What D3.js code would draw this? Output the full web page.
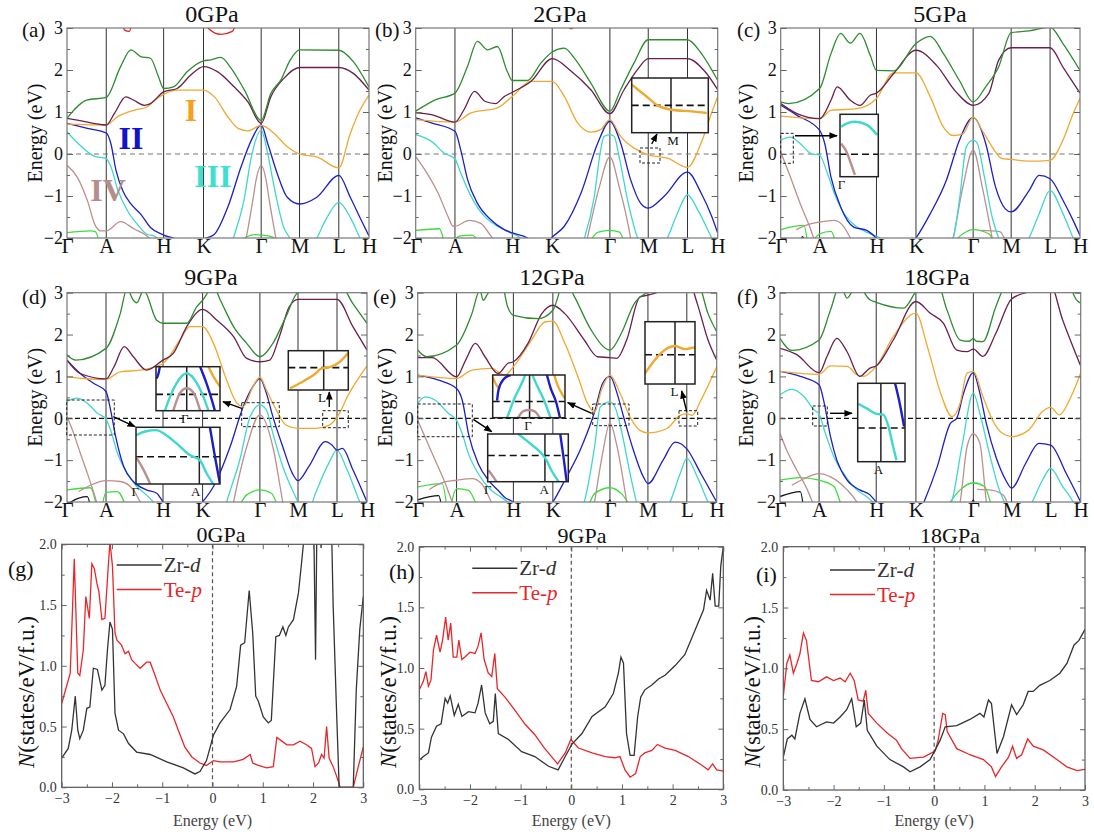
<!DOCTYPE html>
<html>
<head>
<meta charset="utf-8">
<script src="https://cdn.jsdelivr.net/npm/d3@7"></script>
<style>
  body { margin: 0; background: #fff; }
  svg { display: block; }
</style>
</head>
<body>
<svg id="fig" width="1094" height="832"></svg>
<script>
const FONT = '"Liberation Serif","Times New Roman",serif';

// k-path and relative segment lengths
const kPath = ['Γ', 'A', 'H', 'K', 'Γ', 'M', 'L', 'H'];
const kDist = [0, 0.13, 0.32, 0.452, 0.643, 0.77, 0.9, 1];
const pressures = ['0GPa', '2GPa', '5GPa', '9GPa', '12GPa', '18GPa'];
const dosPressures = ['0GPa', '9GPa', '18GPa'];

const bandKeys = ['lime', 'black', 'IV', 'III', 'II', 'I', 'c2', 'c3', 'red'];
const bandColor = d3.scaleOrdinal()
  .domain(bandKeys)
  .range(['#3ddc3d', '#111111', '#bc8f8f', '#40d8cc', '#1e1ec8', '#f0a830', '#6a1f4c', '#2e8b2e', '#e02020']);

// band energies (eV) along the path, x = index along kPath
const bands0 = {
  c3: [[[0,0.85],[0.5,1.28],[1,1.35],[1.25,2.08],[1.43,2.48],[1.6,2.32],[1.77,2.28],[1.91,1.84],[2,1.56],[2.25,1.6],[2.59,1.96],[3,2.22],[3.13,2.24],[3.3,2.3],[3.48,2.04],[3.71,1.52],[4,0.8],[4.25,1.44],[4.51,1.76],[4.76,2.24],[5,2.48],[6,2.47],[6.48,2.2],[7,1.59]]],
  c2: [[[0,0.85],[0.3,0.8],[1,0.69],[1.14,0.96],[1.34,1.36],[1.48,1.28],[1.66,1.16],[1.77,1.2],[2,1.48],[2.34,1.56],[2.68,1.88],[3,2.08],[3.24,1.96],[3.53,1.6],[3.77,1.24],[4,0.73],[4.25,1.36],[4.59,1.8],[5,2.06],[6,2.06],[6.48,1.92],[7,1.52]]],
  I: [[[0,0.71],[1,0.69],[1.2,0.89],[1.48,1.04],[1.71,1.12],[1.86,1.3],[2,1.42],[2.34,1.52],[3,1.52],[3.19,1.36],[3.42,0.89],[3.6,0.61],[3.77,0.55],[4,0.68],[4.34,0.49],[4.68,0.17],[5,0],[5.44,-0.07],[6,-0.33],[6.38,0.49],[6.7,1.04],[7,1.4]]],
  II: [[[0,0.73],[0.52,0.61],[1,0.5],[1.08,0.25],[1.17,-0.39],[1.29,-0.88],[1.43,-1.19],[1.6,-1.43],[1.77,-1.75],[2,-1.93],[2.34,-2.05],[2.6,-2.3],[3,-2.03],[3.19,-1.91],[3.42,-1.27],[3.65,-0.31],[3.83,0.33],[4,0.69],[4.17,0.25],[4.42,-0.47],[4.68,-1.03],[5,-1.19],[5.44,-1.03],[6,-0.51],[6.38,-1.03],[6.7,-1.51],[7,-1.95]]],
  III: [[[0,0.53],[0.34,0.2],[0.69,-0.05],[1,-0.11],[1.08,-0.3],[1.2,-0.85],[1.37,-1.35],[1.54,-1.67],[1.71,-1.91],[1.83,-1.95],[2.1,-2.3],[2.6,-3]],
        [[3.3,-3],[3.52,-2],[3.7,-1.11],[3.83,-0.07],[4,0.57],[4.17,0.01],[4.34,-0.79],[4.59,-1.75],[4.76,-2.03],[5,-2.6],[5.44,-2],[5.7,-1.51],[6,-1.15],[6.38,-1.51],[6.7,-2],[7,-2.4]]],
  IV: [[[0,-0.27],[0.26,-0.55],[0.52,-1.11],[0.72,-1.7],[0.85,-1.83],[1,-1.83],[1.25,-1.61],[1.48,-1.78],[1.71,-1.95],[1.9,-2.2]],
       [[3.55,-3],[3.74,-2],[3.855,-1.1],[3.91,-0.63],[4,-0.27],[4.13,-0.63],[4.21,-1.1],[4.38,-2],[4.55,-3]]],
  lime: [[[0,-1.87],[0.6,-1.83],[0.72,-1.85],[0.85,-2.2]], [[3.6,-2.2],[3.75,-1.97],[3.9,-1.92],[4,-1.93],[4.3,-1.98],[4.5,-2.2]]],
  red: [[[1.26,3.2],[1.32,2.95],[1.4,2.92],[1.46,3.2]], [[3,3.2],[3.1,2.97],[3.3,2.85],[3.5,2.92],[3.56,3.1]]]
};

const bands2 = {
  c3: [[[0,1.02],[0.5,1.29],[1,1.45],[1.22,2.09],[1.39,2.68],[1.57,2.48],[1.74,2.56],[1.91,1.97],[2,1.75],[2.38,1.75],[2.72,2.17],[3,2.43],[3.21,2.52],[3.38,2.29],[3.67,1.69],[4,1.02],[4.28,1.53],[4.63,2.17],[5,2.72],[6,2.72],[6.45,2.4],[7,1.75]]],
  c2: [[[0,0.98],[0.4,0.94],[1,0.76],[1.16,1.06],[1.34,1.49],[1.53,1.25],[1.71,1.2],[1.86,1.37],[2,1.47],[2.47,1.73],[3,2.27],[3.33,1.97],[3.67,1.53],[4,0.96],[4.37,1.53],[4.72,2.01],[5,2.27],[6,2.27],[6.57,1.97],[7,1.53]]],
  I: [[[0,0.82],[1,0.76],[1.28,0.98],[1.74,1.1],[2,1.37],[2.47,1.73],[3,1.73],[3.21,1.37],[3.44,0.74],[3.67,0.52],[3.84,0.58],[4,0.82],[4.28,0.42],[4.63,0.14],[5,-0.02],[5.49,-0.1],[6,-0.32],[6.45,0.26],[6.8,0.98],[7,1.37]]],
  II: [[[0,0.86],[0.4,0.74],[1,0.54],[1.1,0.1],[1.22,-0.61],[1.39,-1.17],[1.62,-1.56],[1.86,-1.8],[2,-1.88],[2.38,-2],[2.7,-2.3],[3,-1.98],[3.21,-1.72],[3.5,-0.93],[3.79,0.26],[4,0.78],[4.28,0.26],[4.54,-0.61],[4.8,-1.17],[5,-1.29],[5.4,-1.01],[6,-0.43],[6.45,-0.93],[6.8,-1.48],[7,-1.88]]],
  III: [[[0,0.46],[0.4,0.3],[0.73,0.02],[1,-0.12],[1.1,-0.45],[1.28,-1.01],[1.51,-1.48],[1.74,-1.72],[1.97,-1.88],[2.2,-2],[2.5,-2.5]],
        [[3.3,-2.6],[3.56,-2],[3.73,-1.01],[3.84,0.1],[3.9,0.42],[4,0.46],[4.11,0.42],[4.24,-0.06],[4.46,-1.09],[4.72,-2],[5.1,-2.6],[5.49,-2],[5.75,-1.4],[6,-0.97],[6.34,-1.33],[6.8,-2],[7,-2.3]]],
  IV: [[[0,-0.06],[0.23,-0.37],[0.57,-0.93],[0.82,-1.48],[0.95,-1.72],[1,-1.72],[1.25,-1.58],[1.45,-1.65],[1.6,-1.9],[1.75,-2.2]],
       [[3.45,-3],[3.61,-2],[3.82,-0.77],[4,-0.07],[4.24,-0.77],[4.54,-2],[4.7,-3]]],
  lime: [[[0,-1.82],[0.6,-1.78],[0.75,-2.2]], [[0.9,-2.1],[1.1,-1.95],[1.3,-1.93],[1.45,-2.2]], [[3.6,-2.2],[3.8,-1.86],[4,-1.82],[4.25,-1.86],[4.4,-2.2]]],
  red: [[[3.22,3.15],[3.33,2.98],[3.44,3.15]]]
};

const bands5 = {
  c3: [[[0,1.24],[0.2,1.2],[1,1.56],[1.2,2.39],[1.37,2.87],[1.54,2.64],[1.71,2.87],[1.89,2.35],[2,1.99],[2.43,1.98],[3,2.63],[3.25,2.8],[3.48,2.39],[3.76,1.75],[4,1.24],[4.33,1.6],[4.67,2.07],[5,2.89],[5.46,2.93],[6,3.02],[6.43,2.63],[7,1.99]]],
  c2: [[[0,1.2],[0.42,0.96],[1,0.84],[1.2,1.28],[1.31,1.6],[1.54,1.28],[1.71,1.16],[1.89,1.4],[2,1.45],[2.43,1.91],[3,2.47],[3.36,2.11],[3.7,1.48],[4,1.16],[4.41,1.44],[4.67,2.23],[5,2.53],[6,2.53],[6.43,2.07],[7,1.45]]],
  I: [[[0,0.9],[1,0.84],[1.2,1.04],[1.66,1.08],[2,1.32],[2.43,1.93],[3,1.93],[3.25,1.36],[3.48,0.64],[3.65,0.44],[3.82,0.48],[4,0.88],[4.24,0.56],[4.5,0.17],[4.76,-0.11],[5,-0.13],[5.46,-0.17],[6,-0.15],[6.43,0.33],[6.77,0.96],[7,1.32]]],
  II: [[[0,1.16],[0.42,0.92],[1,0.56],[1.09,0.25],[1.2,-0.55],[1.37,-1.26],[1.6,-1.74],[1.83,-1.82],[2,-2],[2.5,-2.5],[3,-2],[3.25,-1.42],[3.53,-0.63],[3.76,0.33],[4,0.87],[4.33,0.25],[4.59,-0.79],[4.84,-1.3],[5,-1.38],[5.46,-0.87],[5.72,-0.51],[6,-0.59],[6.43,-1.1],[6.77,-1.58],[7,-1.94]]],
  III: [[[0,0.33],[0.25,0.4],[0.5,0.25],[0.78,0.01],[1,-0.03],[1.14,-0.47],[1.26,-0.94],[1.43,-1.42],[1.66,-1.74],[1.89,-1.9],[2.09,-2],[2.5,-2.6]],
        [[3.3,-2.6],[3.65,-2],[3.76,-1.1],[3.88,0.17],[4,0.33],[4.11,0.25],[4.28,-0.47],[4.5,-1.5],[4.67,-2],[5,-2.6],[5.46,-2],[5.72,-1.42],[6,-0.87],[6.43,-1.42],[6.77,-2],[7,-2.4]]],
  IV: [[[0,0.05],[0.25,-0.55],[0.5,-1.18],[0.78,-1.82],[0.95,-2.3]],
       [[0.4,-1.8],[0.7,-1.68],[1,-1.62],[1.26,-1.58],[1.43,-1.74],[1.54,-2],[1.7,-2.4]],
       [[3.4,-3],[3.65,-2],[3.82,-0.79],[4,0.1],[4.24,-0.79],[4.5,-2],[4.7,-3]],
       [[4.2,-1.82],[4.7,-1.85],[4.9,-2.2]]],
  lime: [[[0,-1.8],[0.6,-1.7],[0.7,-2.2]], [[0.8,-2.1],[1,-1.9],[1.2,-1.84],[1.3,-2.2]], [[3.6,-2.2],[3.82,-1.9],[4,-1.8],[4.41,-1.9],[4.6,-2.2]]],
  black: [[[0.5,-2.1],[0.56,-1.97],[0.62,-2.1]]]
};

const bands9 = {
  c3: [[[0,1.51],[0.22,1.39],[1,1.67],[1.25,2.5],[1.37,3.1],[1.48,2.82],[1.54,2.76],[1.66,3.06],[1.89,2.34],[2,2.27],[2.6,2.27],[2.85,2.66],[3,2.82],[3.19,3.14],[3.31,2.82],[3.54,2.19],[3.77,1.79],[4,1.47],[4.34,1.79],[4.68,2.42],[5,3],[5.45,3.06],[6,3.3],[6.53,2.74],[7,2.27]]],
  c2: [[[0,1.39],[0.34,1.07],[1,0.94],[1.14,1.23],[1.32,1.71],[1.48,1.47],[1.71,1.15],[2,1.39],[2.26,1.55],[2.6,2.19],[3,2.6],[3.25,2.34],[3.54,1.95],[3.77,1.43],[4,1.35],[4.26,1.39],[4.51,1.95],[4.77,2.66],[5,2.84],[6,2.84],[6.53,2.19],[7,1.63]]],
  I: [[[0,0.99],[0.43,0.95],[1,0.93],[1.25,1.11],[1.6,1.15],[2,1.31],[2.43,1.87],[2.68,2.19],[3,2.19],[3.19,1.79],[3.42,0.91],[3.6,0.36],[3.71,0.28],[3.88,0.76],[4,0.98],[4.17,0.68],[4.43,0.2],[4.68,-0.16],[5,-0.24],[5.45,-0.24],[5.79,-0.17],[6,0.02],[6.41,0.6],[7,1.25]]],
  II: [[[0,1.39],[0.34,1.07],[0.69,0.83],[1,0.64],[1.08,0.2],[1.17,-0.44],[1.31,-1.15],[1.48,-1.51],[1.71,-1.71],[1.89,-1.79],[2,-2],[2.5,-2.5],[3,-2],[3.19,-1.63],[3.48,-0.68],[3.71,0.28],[3.88,0.76],[4,0.95],[4.17,0.6],[4.34,0.04],[4.6,-0.68],[4.85,-1.31],[5,-1.49],[5.28,-1.15],[5.7,-0.56],[5.87,-0.64],[6,-0.76],[6.18,-0.72],[6.53,-1.23],[7,-2]]],
  III: [[[0,0.4],[0.26,0.48],[0.52,0.36],[0.78,0.12],[1,-0.02],[1.08,-0.28],[1.2,-0.83],[1.37,-1.31],[1.54,-1.63],[1.71,-1.83],[1.83,-2],[2.3,-2.6]],
        [[3.3,-2.6],[3.42,-2],[3.65,-0.99],[3.83,0.04],[4,0.32],[4.17,0.2],[4.34,-0.36],[4.6,-1.15],[4.85,-1.71],[5,-2],[5.2,-2.4],[5.45,-1.79],[5.79,-1.07],[6,-0.76],[6.29,-1.15],[6.76,-2],[7,-2.4]]],
  IV: [[[0,0.04],[0.17,-0.36],[0.34,-0.83],[0.52,-1.31],[0.69,-1.79],[0.85,-2.3]],
       [[0.3,-1.75],[0.6,-1.6],[1,-1.49],[1.25,-1.51],[1.48,-1.71],[1.6,-2],[1.75,-2.4]],
       [[3.4,-3],[3.54,-2],[3.77,-0.68],[4,0.08],[4.34,-0.68],[4.6,-2],[4.8,-3]]],
  lime: [[[0,-1.71],[0.6,-1.66],[0.78,-2.2]], [[0.9,-2.1],[1,-1.77],[1.2,-1.75],[1.37,-2.2]], [[3.6,-2.2],[3.77,-1.83],[4,-1.71],[4.3,-1.79],[4.5,-2.2]]],
  black: [[[0,-2.2],[0.1,-2],[0.52,-1.87],[0.62,-2.2]]]
};

const bands12 = {
  c3: [[[0,1.63],[0.23,1.47],[1,1.75],[1.27,2.5],[1.41,3.06],[1.47,2.82],[1.55,2.98],[1.78,3.3],[1.9,2.66],[2,2.46],[2.63,2.38],[3,2.58],[3.21,3.3],[3.38,2.9],[3.67,2.11],[4,1.63],[4.3,2.03],[4.64,2.74],[5,3.02],[6,3.4],[6.35,3.3],[6.71,2.5],[7,2.07]]],
  c2: [[[0,1.45],[0.37,1.45],[1,0.99],[1.16,1.39],[1.33,1.79],[1.5,1.47],[1.73,1.07],[1.9,1.31],[2,1.35],[2.37,1.79],[2.72,2.5],[3,2.7],[3.21,2.5],[3.55,1.87],[3.78,1.47],[4,1.45],[4.18,1.43],[4.44,1.87],[4.79,2.9],[5,2.94],[5.39,3.06],[6,3.4],[6.35,2.74],[6.71,1.87],[7,1.39]]],
  I: [[[0,1.03],[1,0.95],[1.27,1.15],[1.61,1.19],[1.85,1.03],[2,1.23],[2.46,1.87],[2.8,2.3],[3,2.32],[3.21,1.79],[3.44,0.99],[3.61,0.35],[3.73,0.15],[3.85,0.67],[4,1.03],[4.27,0.59],[4.53,0.03],[4.79,-0.29],[5,-0.35],[5.48,-0.25],[5.83,0.07],[6,0.11],[6.18,0.07],[6.47,0.43],[7,1.23]]],
  II: [[[0,1.03],[0.54,0.91],[1,0.71],[1.1,0.43],[1.21,-0.37],[1.38,-1.08],[1.56,-1.48],[1.73,-1.72],[1.84,-1.88],[2,-2],[2.5,-2.5],[3,-2],[3.21,-1.48],[3.5,-0.69],[3.73,0.15],[3.87,0.83],[4,1],[4.19,0.59],[4.36,0.03],[4.62,-0.77],[4.88,-1.4],[5,-1.56],[5.39,-1],[5.7,-0.57],[6,-0.73],[6.47,-1.32],[7,-2]]],
  III: [[[0,0.35],[0.19,0.51],[0.45,0.43],[0.8,0.11],[1,-0.05],[1.1,-0.37],[1.21,-0.85],[1.38,-1.32],[1.61,-1.72],[1.78,-1.88],[1.9,-2],[2.3,-2.6]],
        [[3.3,-2.6],[3.55,-2],[3.73,-0.69],[3.83,0.27],[4,0.39],[4.15,0.23],[4.32,-0.37],[4.53,-1.32],[4.7,-2],[5,-2.6],[5.57,-2],[5.83,-1.32],[6,-0.96],[6.35,-1.4],[6.71,-2],[7,-2.4]]],
  IV: [[[0,-0.05],[0.19,-0.45],[0.45,-1],[0.71,-1.56],[0.89,-2],[1.1,-2.5]],
       [[0.3,-1.7],[0.6,-1.55],[1,-1.48],[1.27,-1.44],[1.44,-1.56],[1.61,-2],[1.75,-2.4]],
       [[3.6,-3],[3.73,-2],[3.87,-0.85],[4,-0.11],[4.19,-0.69],[4.44,-2],[4.6,-3]]],
  lime: [[[0,-1.64],[0.63,-1.56],[0.76,-2.2]], [[0.85,-2.1],[1,-1.68],[1.21,-1.72],[1.38,-2.2]], [[3.6,-2.2],[3.73,-1.8],[4,-1.66],[4.3,-1.8],[4.6,-2.2]]],
  black: [[[0,-1.95],[0.54,-1.85],[0.63,-2.2]], [[3.93,-2.2],[4,-1.95],[4.07,-2.2]]]
};

const bands18 = {
  c3: [[[0,1.91],[0.3,1.62],[1,1.87],[1.2,2.59],[1.37,3.2],[1.49,2.87],[1.66,3.2],[1.89,2.83],[2,2.77],[2.69,2.63],[3,3.03],[3.31,3.5],[3.54,2.59],[3.77,1.87],[3.93,1.84],[4,1.91],[4.08,1.84],[4.25,1.83],[4.59,2.67],[4.85,3.23],[5,3.4],[6,3.5],[6.4,3.5],[6.86,2.83],[7,2.75]]],
  c2: [[[0,1.67],[0.43,1.52],[1,1.09],[1.14,1.48],[1.31,1.91],[1.49,1.59],[1.71,1],[1.89,1.2],[2,1.25],[2.43,1.87],[3,2.79],[3.25,2.51],[3.48,2.27],[3.71,1.63],[3.89,1.59],[4,1.65],[4.25,1.48],[4.59,2.03],[5,2.85],[5.44,3.03],[5.95,3.3],[6.4,2.35],[7,1.25]]],
  I: [[[0,1.12],[1,1.05],[1.2,1.25],[1.49,1.24],[1.66,1.04],[1.77,1],[2,1.24],[2.43,1.95],[3,2.51],[3.2,1.71],[3.43,0.6],[3.63,0.04],[3.77,0.36],[3.89,1.08],[4,1.12],[4.25,0.52],[4.5,-0.04],[4.76,-0.36],[5,-0.44],[5.44,-0.28],[5.79,0.16],[6,0.26],[6.29,0.08],[6.63,0.44],[7,1.08]]],
  II: [[[0,1.12],[0.52,1],[1,0.8],[1.09,0.36],[1.2,-0.44],[1.31,-1],[1.49,-1.48],[1.71,-1.71],[1.89,-1.83],[2,-2],[2.5,-2.6],[2.9,-2.6],[3.14,-2],[3.37,-1.16],[3.6,-0.12],[3.71,0],[3.83,0.6],[4,1.09],[4.17,0.6],[4.34,-0.12],[4.59,-0.92],[4.85,-1.48],[5,-1.67],[5.36,-1.08],[5.7,-0.6],[6,-0.64],[6.52,-1.32],[7,-2]]],
  III: [[[0,0.56],[0.3,0.69],[0.61,0.52],[0.87,0.2],[1,0.1],[1.11,-0.36],[1.26,-0.92],[1.43,-1.32],[1.66,-1.71],[1.83,-1.87],[1.94,-2],[2.3,-2.6]],
        [[3.3,-2.6],[3.62,-2],[3.8,-0.68],[4,0.6],[4.17,0.12],[4.42,-0.84],[4.68,-1.71],[4.81,-2],[5.1,-2.6],[5.53,-2],[5.79,-1.48],[6,-1.2],[6.4,-1.63],[6.75,-2],[7,-2.4]]],
  IV: [[[0,-0.36],[0.17,-0.76],[0.43,-1.24],[0.7,-1.71],[0.83,-2],[1,-2.4]],
       [[0.3,-1.6],[0.6,-1.45],[1,-1.32],[1.2,-1.4],[1.49,-1.71],[1.66,-2],[1.8,-2.4]],
       [[3.5,-3],[3.77,-2],[3.89,-0.68],[4,-0.37],[4.17,-0.6],[4.34,-2],[4.5,-3]],
       [[4.1,-1.7],[4.5,-1.72],[4.8,-1.85],[4.95,-2.2]]],
  lime: [[[0,-1.48],[0.5,-1.42],[1,-1.48],[1.26,-1.63],[1.37,-2],[1.5,-2.4]], [[3.5,-2.2],[3.77,-1.71],[4,-1.54],[4.29,-1.63],[4.5,-2.2]]],
  black: [[[0,-1.87],[0.52,-1.75],[0.61,-2.2]], [[3.93,-2.2],[4,-1.95],[4.07,-2.2]]]
};

// projected DOS, [energy eV, states/eV/f.u.]
const dosZr0 = [[-3,0.24],[-2.87,0.32],[-2.8,0.47],[-2.73,0.75],[-2.68,0.47],[-2.64,0.4],[-2.57,0.47],[-2.5,0.65],[-2.44,0.66],[-2.37,0.98],[-2.29,0.97],[-2.2,0.8],[-2.14,0.84],[-2.09,1.13],[-2.04,1.36],[-1.99,1.3],[-1.94,0.61],[-1.87,0.47],[-1.77,0.44],[-1.67,0.36],[-1.51,0.29],[-1.24,0.27],[-0.91,0.21],[-0.58,0.16],[-0.35,0.11],[-0.25,0.13],[-0.12,0.22],[0.02,0.43],[0.15,0.53],[0.35,0.64],[0.48,0.83],[0.56,1.17],[0.64,1.19],[0.73,1.62],[0.8,1.27],[0.86,0.75],[0.91,0.71],[1.01,0.58],[1.11,0.53],[1.17,0.55],[1.26,1.24],[1.33,1.25],[1.4,1.32],[1.46,1.25],[1.51,1.32],[1.61,1.38],[1.71,1.6],[1.77,1.84],[1.82,2.05],[1.94,2.3],[1.99,2.05],[2.01,2.3],[2.05,1.05],[2.08,2.3],[2.13,2.3],[2.16,1.97],[2.19,2.3],[2.36,2.3],[2.4,1.5],[2.47,0.6],[2.52,0],[2.8,0],[2.86,0.8],[2.93,1.3],[3,1.57]];
const dosTe0 = [[-3,0.69],[-2.83,0.94],[-2.75,1.88],[-2.68,0.94],[-2.64,0.92],[-2.57,1.13],[-2.52,1.57],[-2.45,1.39],[-2.4,1.84],[-2.35,1.8],[-2.3,1.68],[-2.26,1.61],[-2.2,1.38],[-2.14,1.39],[-2.07,1.84],[-2.04,2.02],[-1.99,1.82],[-1.94,1.27],[-1.9,1.21],[-1.81,1.17],[-1.74,1.1],[-1.67,1.12],[-1.61,1.05],[-1.54,1.02],[-1.44,0.98],[-1.31,1.03],[-1.24,1.03],[-1.16,0.94],[-1.04,0.8],[-0.91,0.69],[-0.78,0.58],[-0.68,0.47],[-0.55,0.33],[-0.41,0.25],[-0.25,0.2],[-0.12,0.18],[0.02,0.22],[0.15,0.21],[0.42,0.21],[0.61,0.23],[0.75,0.27],[0.8,0.2],[0.91,0.18],[1.08,0.16],[1.21,0.17],[1.28,0.41],[1.38,0.38],[1.48,0.35],[1.61,0.35],[1.74,0.38],[1.87,0.35],[1.97,0.32],[2.04,0.17],[2.11,0.2],[2.17,0.27],[2.22,0.24],[2.27,0.5],[2.32,0.24],[2.4,0.17],[2.47,0.09],[2.54,0],[2.8,0],[2.9,0.17],[3,0.33]];
const dosZr9 = [[-3,0.24],[-2.92,0.27],[-2.82,0.3],[-2.76,0.43],[-2.66,0.52],[-2.57,0.54],[-2.49,0.75],[-2.44,0.71],[-2.39,0.77],[-2.31,0.61],[-2.23,0.7],[-2.16,0.6],[-2.03,0.64],[-1.9,0.63],[-1.84,0.71],[-1.77,0.86],[-1.7,0.63],[-1.61,0.54],[-1.54,0.56],[-1.5,0.79],[-1.44,0.46],[-1.24,0.41],[-0.98,0.31],[-0.72,0.27],[-0.45,0.19],[-0.26,0.16],[-0.12,0.27],[0.01,0.37],[0.21,0.46],[0.41,0.6],[0.67,0.68],[0.83,0.79],[0.93,0.96],[0.98,1.09],[1.03,1.04],[1.09,0.46],[1.16,0.28],[1.24,0.28],[1.31,0.6],[1.37,0.76],[1.45,0.82],[1.59,0.86],[1.72,0.91],[1.85,0.94],[2.05,1.02],[2.24,1.11],[2.44,1.31],[2.61,1.48],[2.67,1.64],[2.74,1.56],[2.79,1.78],[2.84,1.51],[2.91,1.51],[2.95,1.84],[3,2]];
const dosTe9 = [[-3,0.82],[-2.92,0.89],[-2.87,0.97],[-2.82,0.85],[-2.77,0.9],[-2.72,1.15],[-2.66,1.27],[-2.59,1.13],[-2.54,1.23],[-2.48,1.42],[-2.43,1.23],[-2.38,1.37],[-2.33,1.09],[-2.26,1.09],[-2.22,1.23],[-2.16,1.07],[-2.1,1.09],[-2,1.13],[-1.9,1.12],[-1.84,1.18],[-1.78,1.29],[-1.72,1.07],[-1.64,0.96],[-1.57,0.93],[-1.51,1.12],[-1.46,0.83],[-1.31,0.76],[-1.11,0.65],[-0.92,0.54],[-0.72,0.45],[-0.53,0.34],[-0.39,0.27],[-0.27,0.21],[-0.12,0.3],[-0.01,0.41],[0.14,0.34],[0.41,0.3],[0.67,0.27],[0.86,0.26],[0.96,0.27],[1.06,0.16],[1.16,0.1],[1.27,0.13],[1.36,0.27],[1.45,0.3],[1.59,0.32],[1.7,0.37],[1.85,0.34],[2.05,0.32],[2.31,0.27],[2.57,0.2],[2.7,0.16],[2.79,0.21],[2.87,0.16],[3,0.15]];
const dosZr18 = [[-3,0.27],[-2.92,0.42],[-2.83,0.45],[-2.77,0.42],[-2.67,0.63],[-2.57,0.75],[-2.47,0.58],[-2.34,0.52],[-2.14,0.56],[-2,0.55],[-1.87,0.6],[-1.74,0.66],[-1.64,0.75],[-1.55,0.52],[-1.46,0.55],[-1.39,0.74],[-1.33,0.49],[-1.14,0.36],[-0.88,0.25],[-0.61,0.19],[-0.48,0.15],[-0.28,0.19],[-0.08,0.25],[0.02,0.33],[0.12,0.41],[0.22,0.52],[0.45,0.53],[0.71,0.58],[0.91,0.63],[0.99,0.6],[1.08,0.74],[1.14,0.71],[1.25,0.3],[1.38,0.44],[1.54,0.7],[1.64,0.62],[1.77,0.7],[1.87,0.81],[1.97,0.81],[2.1,0.86],[2.3,0.9],[2.5,0.96],[2.64,1.04],[2.78,1.19],[2.88,1.23],[3,1.32]];
const dosTe18 = [[-3,0.77],[-2.93,1.04],[-2.87,1.11],[-2.8,0.96],[-2.73,1.04],[-2.67,1.12],[-2.6,1.29],[-2.54,1.23],[-2.44,0.9],[-2.3,0.89],[-2.14,0.93],[-2,0.9],[-1.87,0.92],[-1.77,0.89],[-1.67,0.96],[-1.59,0.9],[-1.51,0.74],[-1.41,0.73],[-1.36,0.82],[-1.31,0.63],[-1.14,0.55],[-0.94,0.47],[-0.75,0.41],[-0.65,0.34],[-0.48,0.26],[-0.21,0.27],[0.02,0.32],[0.08,0.41],[0.17,0.63],[0.22,0.62],[0.26,0.48],[0.45,0.34],[0.71,0.29],[0.98,0.25],[1.14,0.19],[1.22,0.11],[1.34,0.19],[1.48,0.27],[1.56,0.36],[1.64,0.26],[1.74,0.29],[1.86,0.42],[1.97,0.36],[2.17,0.33],[2.44,0.25],[2.64,0.19],[2.84,0.16],[3,0.17]];

// zoomed inset curves, in fractions of the inset box (u right, v down)
const insetCurvesB = [['I', [[0,0.12],[0.17,0.31],[0.35,0.51],[0.52,0.58],[0.78,0.61],[0.98,0.64]]]];
const insetCurvesC = [['III', [[0.03,0.2],[0.2,0.14],[0.39,0.12],[0.7,0.17],[0.97,0.33]]], ['IV', [[0.03,0.47],[0.17,0.6],[0.28,0.78],[0.39,0.97]]]];
const insetCurvesD1 = [['II', [[0.01,0.27],[0.04,0.15],[0.06,0]]], ['III', [[0.14,1],[0.22,0.68],[0.32,0.38],[0.48,0.15],[0.64,0.38],[0.74,0.68],[0.82,1]]], ['IV', [[0.27,1],[0.375,0.6],[0.48,0.49],[0.59,0.6],[0.69,1]]], ['II', [[0.69,0],[0.77,0.3],[0.84,0.6],[0.92,1]]], ['I', [[0.82,0],[0.9,0.23],[1,0.45]]]];
const insetCurvesD2 = [['III', [[0,0.14],[0.12,0.07],[0.24,0.05],[0.36,0.14],[0.48,0.28],[0.64,0.49],[0.76,0.58],[0.84,0.81],[0.92,1]]], ['IV', [[0,0.52],[0.09,0.75],[0.17,1]]], ['II', [[0.88,0],[0.94,0.52],[1,1]]]];
const insetCurvesD3 = [['I', [[0.03,0.96],[0.19,0.83],[0.42,0.62],[0.56,0.45],[0.69,0.42],[0.86,0.28],[1,0.05]]]];
const insetCurvesE1 = [['I', [[0,0.05],[0.04,0.2],[0.08,0.3]]], ['II', [[0.06,0.6],[0.08,0.35],[0.15,0.1],[0.25,0]]], ['III', [[0.2,1],[0.3,0.55],[0.4,0.2],[0.45,0]]], ['III', [[0.55,0],[0.6,0.2],[0.7,0.55],[0.8,1]]], ['IV', [[0.35,1],[0.42,0.85],[0.5,0.82],[0.58,0.85],[0.65,1]]], ['II', [[0.75,0],[0.8,0.3],[0.88,0.65],[0.93,1]]], ['I', [[0.85,0],[0.9,0.25],[0.96,0.45],[1,0.55]]]];
const insetCurvesE2 = [['III', [[0.38,0],[0.55,0.23],[0.67,0.41],[0.73,0.55],[0.79,0.76],[0.88,1]]], ['II', [[0.9,0],[0.94,0.48],[0.98,1]]], ['IV', [[0.01,0.76],[0.07,0.9],[0.11,1]]]];
const insetCurvesE3 = [['I', [[0,0.83],[0.2,0.61],[0.4,0.45],[0.6,0.39],[0.8,0.44],[1,0.41]]]];
const insetCurvesF = [['III', [[0.01,0.26],[0.19,0.32],[0.4,0.39],[0.54,0.4],[0.65,0.55],[0.75,0.81],[0.82,0.98]]], ['II', [[0.79,0],[0.89,0.26],[0.98,0.55]]]];

const svg = d3.select('#fig');
const defs = svg.append('defs');
defs.append('marker')
  .attr('id', 'arr')
  .attr('viewBox', '0 0 10 10')
  .attr('refX', 9).attr('refY', 5)
  .attr('markerWidth', 6).attr('markerHeight', 6)
  .attr('orient', 'auto')
  .append('path').attr('d', 'M0,1 L10,5 L0,9 z').attr('fill', '#000');

const bandLayout = [
  { tag: 'a', x0: 67, x1: 369, y0: 28, y1: 238, tx: 212, ty: 22, lx: 22, ly: 37, yl: 35, zc: '#777', zd: '5,4' },
  { tag: 'b', x0: 415.7, x1: 717.7, y0: 28, y1: 238, tx: 560, ty: 22, lx: 375, ly: 37, yl: 385, zc: '#777', zd: '5,4' },
  { tag: 'c', x0: 780.7, x1: 1080, y0: 28, y1: 238, tx: 940, ty: 22, lx: 737, ly: 37, yl: 746, zc: '#777', zd: '5,4' },
  { tag: 'd', x0: 67, x1: 367, y0: 292.7, y1: 502, tx: 211, ty: 285, lx: 22, ly: 304, yl: 35, zc: '#111', zd: '5,3' },
  { tag: 'e', x0: 417.7, x1: 716.7, y0: 292.7, y1: 502, tx: 552, ty: 285, lx: 373, ly: 304, yl: 385, zc: '#111', zd: '5,3' },
  { tag: 'f', x0: 780, x1: 1080.7, y0: 292.7, y1: 502, tx: 937, ty: 285, lx: 737, ly: 304, yl: 746, zc: '#111', zd: '5,3' }
];

const dosLayout = [
  { tag: 'g', x0: 61.7, x1: 363.3, y0: 544.3, y1: 787.3, tx: 221, ty: 542, lx: 8, ly: 576, nl: 26, legX: 116.7, legY: 565 },
  { tag: 'h', x0: 419.3, x1: 723.3, y0: 546.7, y1: 789.3, tx: 582, ty: 543, lx: 389, ly: 579, nl: 388, legX: 472.3, legY: 568.3 },
  { tag: 'i', x0: 783.3, x1: 1085, y0: 546.7, y1: 790, tx: 950, ty: 543, lx: 756, ly: 582, nl: 752, legX: 830, legY: 570 }
];

const insetLayout = [
  { curves: insetCurvesB, box: [631.7, 78, 708.3, 132.7], src: [640, 148, 660, 163], arrow: [[651.7, 144], [657, 134]], vl: [0.513], dv: 0.5, labels: [['M', 0.54]] },
  { curves: insetCurvesC, box: [840, 114.3, 878.3, 176.7], src: [780.7, 133.3, 793.3, 163.3], arrow: [[795, 135.7], [837, 135.7]], vl: [], dv: 0.64, labels: [['Γ', 0.04]] },
  { curves: insetCurvesD1, box: [156, 366.7, 220, 410.7], src: [241.7, 402.7, 279.3, 426.7], arrow: [[241.7, 408.3], [223, 401.7]], vl: [0.48], dv: 0.63, labels: [['Γ', 0.45]] },
  { curves: insetCurvesD2, box: [136, 427.3, 220, 484], src: [66.7, 400, 114.3, 435], arrow: [[113.3, 416.7], [135, 426.7]], vl: [0.754], dv: 0.52, labels: [['Γ', -0.01], ['A', 0.71]] },
  { curves: insetCurvesD3, box: [288.3, 350.7, 348.3, 390], src: [322.7, 410.7, 348.3, 427.7], arrow: [[329.3, 407], [329.3, 392]], vl: [0.59], dv: 0.43, labels: [['L', 0.56]] },
  { curves: insetCurvesE1, box: [492.7, 375, 565, 417.7], src: [592.7, 404, 629, 425.7], arrow: [[591.7, 413.3], [567.7, 402.7]], vl: [0.51], dv: 0.62, labels: [['Γ', 0.49]] },
  { curves: insetCurvesE2, box: [487.7, 434, 568.3, 481.7], src: [417.7, 404, 472.3, 436.7], arrow: [[473.3, 419.3], [491.7, 431.7]], vl: [0.71], dv: 0.45, labels: [['Γ', 0], ['A', 0.7]] },
  { curves: insetCurvesE3, box: [645, 321.7, 695, 384], src: [679, 410.7, 697.7, 426], arrow: [[686.7, 411.7], [681.7, 391]], vl: [0.6], dv: 0.53, labels: [['L', 0.59]] },
  { curves: insetCurvesF, box: [857.7, 383.3, 905, 461.7], src: [812.7, 406, 827.3, 426], arrow: [[830, 413.3], [852, 413.3]], vl: [0.49], dv: 0.57, labels: [['A', 0.44]] }
];

function styleAxis(sel, size, fill) {
  sel.select('.domain').remove();
  sel.selectAll('line').attr('stroke', '#666');
  sel.selectAll('text').attr('font-size', size).attr('font-family', FONT).attr('fill', fill);
}

function bandPanel(L, bands, title) {
  const x = d3.scaleLinear().domain(d3.range(kPath.length))
    .range(kDist.map(f => L.x0 + f * (L.x1 - L.x0)));
  const y = d3.scaleLinear().domain([-2, 3]).range([L.y1, L.y0]);
  const g = svg.append('g');
  const clip = 'clip-' + L.tag;
  defs.append('clipPath').attr('id', clip).append('rect')
    .attr('x', L.x0).attr('y', L.y0).attr('width', L.x1 - L.x0).attr('height', L.y1 - L.y0);

  g.selectAll('.kline').data(d3.range(1, kPath.length - 1)).join('line')
    .attr('x1', d => x(d)).attr('x2', d => x(d))
    .attr('y1', L.y0).attr('y2', L.y1)
    .attr('stroke', '#333').attr('stroke-width', 1);
  g.append('line')
    .attr('x1', L.x0).attr('x2', L.x1).attr('y1', y(0)).attr('y2', y(0))
    .attr('stroke', L.zc).attr('stroke-width', 1.2).attr('stroke-dasharray', L.zd);

  const line = d3.line().x(d => x(d[0])).y(d => y(d[1])).curve(d3.curveMonotoneX);
  const bg = g.append('g').attr('clip-path', `url(#${clip})`);
  bandKeys.forEach(key => {
    (bands[key] || []).forEach(seg => {
      bg.append('path').attr('d', line(seg))
        .attr('fill', 'none').attr('stroke', bandColor(key)).attr('stroke-width', 1.3);
    });
  });

  g.append('rect')
    .attr('x', L.x0).attr('y', L.y0).attr('width', L.x1 - L.x0).attr('height', L.y1 - L.y0)
    .attr('fill', 'none').attr('stroke', '#777').attr('stroke-width', 1.2);

  const yMajor = [-2, -1, 0, 1, 2, 3];
  const yMinor = [-1.5, -0.5, 0.5, 1.5, 2.5];
  g.append('g').attr('transform', `translate(${L.x0},0)`)
    .call(d3.axisLeft(y).tickValues(yMajor).tickSizeInner(-6).tickSizeOuter(0).tickPadding(4).tickFormat(d3.format('d')))
    .call(a => styleAxis(a, 18, '#111'));
  g.append('g').attr('transform', `translate(${L.x0},0)`)
    .call(d3.axisLeft(y).tickValues(yMinor).tickSize(-3).tickFormat(''))
    .call(a => styleAxis(a, 18, '#111'));
  g.append('g').attr('transform', `translate(${L.x1},0)`)
    .call(d3.axisRight(y).tickValues(yMajor).tickSize(-6).tickFormat(''))
    .call(a => styleAxis(a, 18, '#111'));
  g.append('g').attr('transform', `translate(${L.x1},0)`)
    .call(d3.axisRight(y).tickValues(yMinor).tickSize(-3).tickFormat(''))
    .call(a => styleAxis(a, 18, '#111'));
  g.append('g').attr('transform', `translate(0,${L.y1})`)
    .call(d3.axisBottom(x).tickValues(d3.range(kPath.length)).tickFormat(i => kPath[i]).tickSize(0).tickPadding(0))
    .call(a => styleAxis(a, 21, '#111'));

  g.append('text').attr('x', L.tx).attr('y', L.ty).attr('text-anchor', 'middle')
    .attr('font-family', FONT).attr('font-size', 24).attr('fill', '#111').text(title);
  g.append('text').attr('x', L.lx).attr('y', L.ly)
    .attr('font-family', FONT).attr('font-size', 21).attr('fill', '#111').text(`(${L.tag})`);
  g.append('text')
    .attr('transform', `translate(${L.yl},${(L.y0 + L.y1) / 2}) rotate(-90)`)
    .attr('text-anchor', 'middle').attr('dominant-baseline', 'central')
    .attr('font-family', FONT).attr('font-size', 20).attr('fill', '#111').text('Energy (eV)');
}

function drawInset(ins) {
  const [bx0, by0, bx1, by1] = ins.box;
  const u = d3.scaleLinear().domain([0, 1]).range([bx0, bx1]);
  const v = d3.scaleLinear().domain([0, 1]).range([by0, by1]);
  const g = svg.append('g');
  const [sx0, sy0, sx1, sy1] = ins.src;
  g.append('rect').attr('x', sx0).attr('y', sy0).attr('width', sx1 - sx0).attr('height', sy1 - sy0)
    .attr('fill', 'none').attr('stroke', '#222').attr('stroke-width', 1).attr('stroke-dasharray', '3,2');
  g.append('line')
    .attr('x1', ins.arrow[0][0]).attr('y1', ins.arrow[0][1])
    .attr('x2', ins.arrow[1][0]).attr('y2', ins.arrow[1][1])
    .attr('stroke', '#000').attr('stroke-width', 1.4).attr('marker-end', 'url(#arr)');

  g.append('rect').attr('x', bx0).attr('y', by0).attr('width', bx1 - bx0).attr('height', by1 - by0)
    .attr('fill', '#fff');
  const clipId = 'inset-' + Math.round(bx0);
  defs.append('clipPath').attr('id', clipId).append('rect')
    .attr('x', bx0).attr('y', by0).attr('width', bx1 - bx0).attr('height', by1 - by0);
  const cg = g.append('g').attr('clip-path', `url(#${clipId})`);
  ins.vl.forEach(p => {
    cg.append('line').attr('x1', u(p)).attr('x2', u(p)).attr('y1', by0).attr('y2', by1)
      .attr('stroke', '#222').attr('stroke-width', 1.5);
  });
  cg.append('line').attr('x1', bx0).attr('x2', bx1).attr('y1', v(ins.dv)).attr('y2', v(ins.dv))
    .attr('stroke', '#111').attr('stroke-width', 1.6).attr('stroke-dasharray', '7,4');
  const line = d3.line().x(d => u(d[0])).y(d => v(d[1])).curve(d3.curveMonotoneX);
  ins.curves.forEach(([key, pts]) => {
    cg.append('path').attr('d', line(pts)).attr('fill', 'none')
      .attr('stroke', bandColor(key)).attr('stroke-width', 2.4);
  });
  g.append('rect').attr('x', bx0).attr('y', by0).attr('width', bx1 - bx0).attr('height', by1 - by0)
    .attr('fill', 'none').attr('stroke', '#222').attr('stroke-width', 1.5);
  ins.labels.forEach(([t, p]) => {
    g.append('text').attr('x', u(p)).attr('y', by1 + 12).attr('text-anchor', 'middle')
      .attr('font-family', FONT).attr('font-size', 13).attr('fill', '#111').text(t);
  });
}

function dosPanel(L, zr, te, title) {
  const x = d3.scaleLinear().domain([-3, 3]).range([L.x0, L.x1]);
  const y = d3.scaleLinear().domain([0, 2]).range([L.y1, L.y0]);
  const g = svg.append('g');
  const clip = 'clip-' + L.tag;
  defs.append('clipPath').attr('id', clip).append('rect')
    .attr('x', L.x0).attr('y', L.y0).attr('width', L.x1 - L.x0).attr('height', L.y1 - L.y0);

  g.append('line').attr('x1', x(0)).attr('x2', x(0)).attr('y1', L.y0).attr('y2', L.y1)
    .attr('stroke', '#555').attr('stroke-width', 1.2).attr('stroke-dasharray', '4,3');

  const line = d3.line().x(d => x(d[0])).y(d => y(d[1]));
  const cg = g.append('g').attr('clip-path', `url(#${clip})`);
  cg.append('path').attr('d', line(te)).attr('fill', 'none').attr('stroke', '#e8262a').attr('stroke-width', 1.3);
  cg.append('path').attr('d', line(zr)).attr('fill', 'none').attr('stroke', '#333').attr('stroke-width', 1.3);

  g.append('rect')
    .attr('x', L.x0).attr('y', L.y0).attr('width', L.x1 - L.x0).attr('height', L.y1 - L.y0)
    .attr('fill', 'none').attr('stroke', '#555').attr('stroke-width', 1.2);

  const xMajor = d3.range(-3, 3.01, 1);
  const xMinor = d3.range(-2.5, 2.6, 1);
  const yMajor = [0, 0.5, 1, 1.5, 2];
  const yMinor = [0.25, 0.75, 1.25, 1.75];
  g.append('g').attr('transform', `translate(0,${L.y1})`)
    .call(d3.axisBottom(x).tickValues(xMajor).tickSizeInner(-5).tickSizeOuter(0).tickPadding(6).tickFormat(d3.format('d')))
    .call(a => styleAxis(a, 14, '#333'));
  g.append('g').attr('transform', `translate(0,${L.y1})`)
    .call(d3.axisBottom(x).tickValues(xMinor).tickSize(-3).tickFormat(''))
    .call(a => styleAxis(a, 14, '#333'));
  g.append('g').attr('transform', `translate(0,${L.y0})`)
    .call(d3.axisTop(x).tickValues(xMajor).tickSize(-5).tickFormat(''))
    .call(a => styleAxis(a, 14, '#333'));
  g.append('g').attr('transform', `translate(0,${L.y0})`)
    .call(d3.axisTop(x).tickValues(xMinor).tickSize(-3).tickFormat(''))
    .call(a => styleAxis(a, 14, '#333'));
  g.append('g').attr('transform', `translate(${L.x0},0)`)
    .call(d3.axisLeft(y).tickValues(yMajor).tickSizeInner(-5).tickSizeOuter(0).tickPadding(5).tickFormat(d3.format('.1f')))
    .call(a => styleAxis(a, 14, '#333'));
  g.append('g').attr('transform', `translate(${L.x0},0)`)
    .call(d3.axisLeft(y).tickValues(yMinor).tickSize(-3).tickFormat(''))
    .call(a => styleAxis(a, 14, '#333'));
  g.append('g').attr('transform', `translate(${L.x1},0)`)
    .call(d3.axisRight(y).tickValues(yMajor).tickSize(-5).tickFormat(''))
    .call(a => styleAxis(a, 14, '#333'));
  g.append('g').attr('transform', `translate(${L.x1},0)`)
    .call(d3.axisRight(y).tickValues(yMinor).tickSize(-3).tickFormat(''))
    .call(a => styleAxis(a, 14, '#333'));

  g.append('text').attr('x', L.tx).attr('y', L.ty).attr('text-anchor', 'middle')
    .attr('font-family', FONT).attr('font-size', 22).attr('fill', '#111').text(title);
  g.append('text').attr('x', L.lx).attr('y', L.ly)
    .attr('font-family', FONT).attr('font-size', 22).attr('fill', '#111').text(`(${L.tag})`);
  g.append('text').attr('x', (L.x0 + L.x1) / 2).attr('y', 826).attr('text-anchor', 'middle')
    .attr('font-family', FONT).attr('font-size', 16).attr('fill', '#444').text('Energy (eV)');

  const nl = g.append('text')
    .attr('transform', `translate(${L.nl},692) rotate(-90)`)
    .attr('text-anchor', 'middle').attr('dominant-baseline', 'central')
    .attr('font-family', FONT).attr('font-size', 23).attr('fill', '#111');
  nl.append('tspan').attr('font-style', 'italic').text('N');
  nl.append('tspan').text('(states/eV/f.u.)');

  const legend = [['Zr-', 'd', '#333'], ['Te-', 'p', '#e8262a']];
  legend.forEach(([a, b, c], i) => {
    const ly = L.legY + i * 24.5;
    g.append('line').attr('x1', L.legX).attr('x2', L.legX + 45).attr('y1', ly).attr('y2', ly)
      .attr('stroke', c).attr('stroke-width', 1.4);
    const t = g.append('text').attr('x', L.legX + 47).attr('y', ly + 7)
      .attr('font-family', FONT).attr('font-size', 21).attr('fill', c);
    t.append('tspan').text(a);
    t.append('tspan').attr('font-style', 'italic').text(b);
  });
}

const allBands = [bands0, bands2, bands5, bands9, bands12, bands18];
bandLayout.forEach((L, i) => bandPanel(L, allBands[i], pressures[i]));

// band labels on panel (a)
const romanLabels = [['I', 191, 121], ['II', 131, 149], ['III', 213, 187], ['IV', 108, 201]];
const romanColor = d3.scaleOrdinal().domain(['I', 'II', 'III', 'IV']).range(['#f5a020', '#1212cc', '#3ee0d0', '#b48e8a']);
svg.append('g').selectAll('text').data(romanLabels).join('text')
  .attr('x', d => d[1]).attr('y', d => d[2]).attr('text-anchor', 'middle')
  .attr('font-family', FONT).attr('font-weight', 'bold').attr('font-size', 32)
  .attr('fill', d => romanColor(d[0])).text(d => d[0]);

insetLayout.forEach(drawInset);

const dosData = [[dosZr0, dosTe0], [dosZr9, dosTe9], [dosZr18, dosTe18]];
dosLayout.forEach((L, i) => dosPanel(L, dosData[i][0], dosData[i][1], dosPressures[i]));
</script>
</body>
</html>
